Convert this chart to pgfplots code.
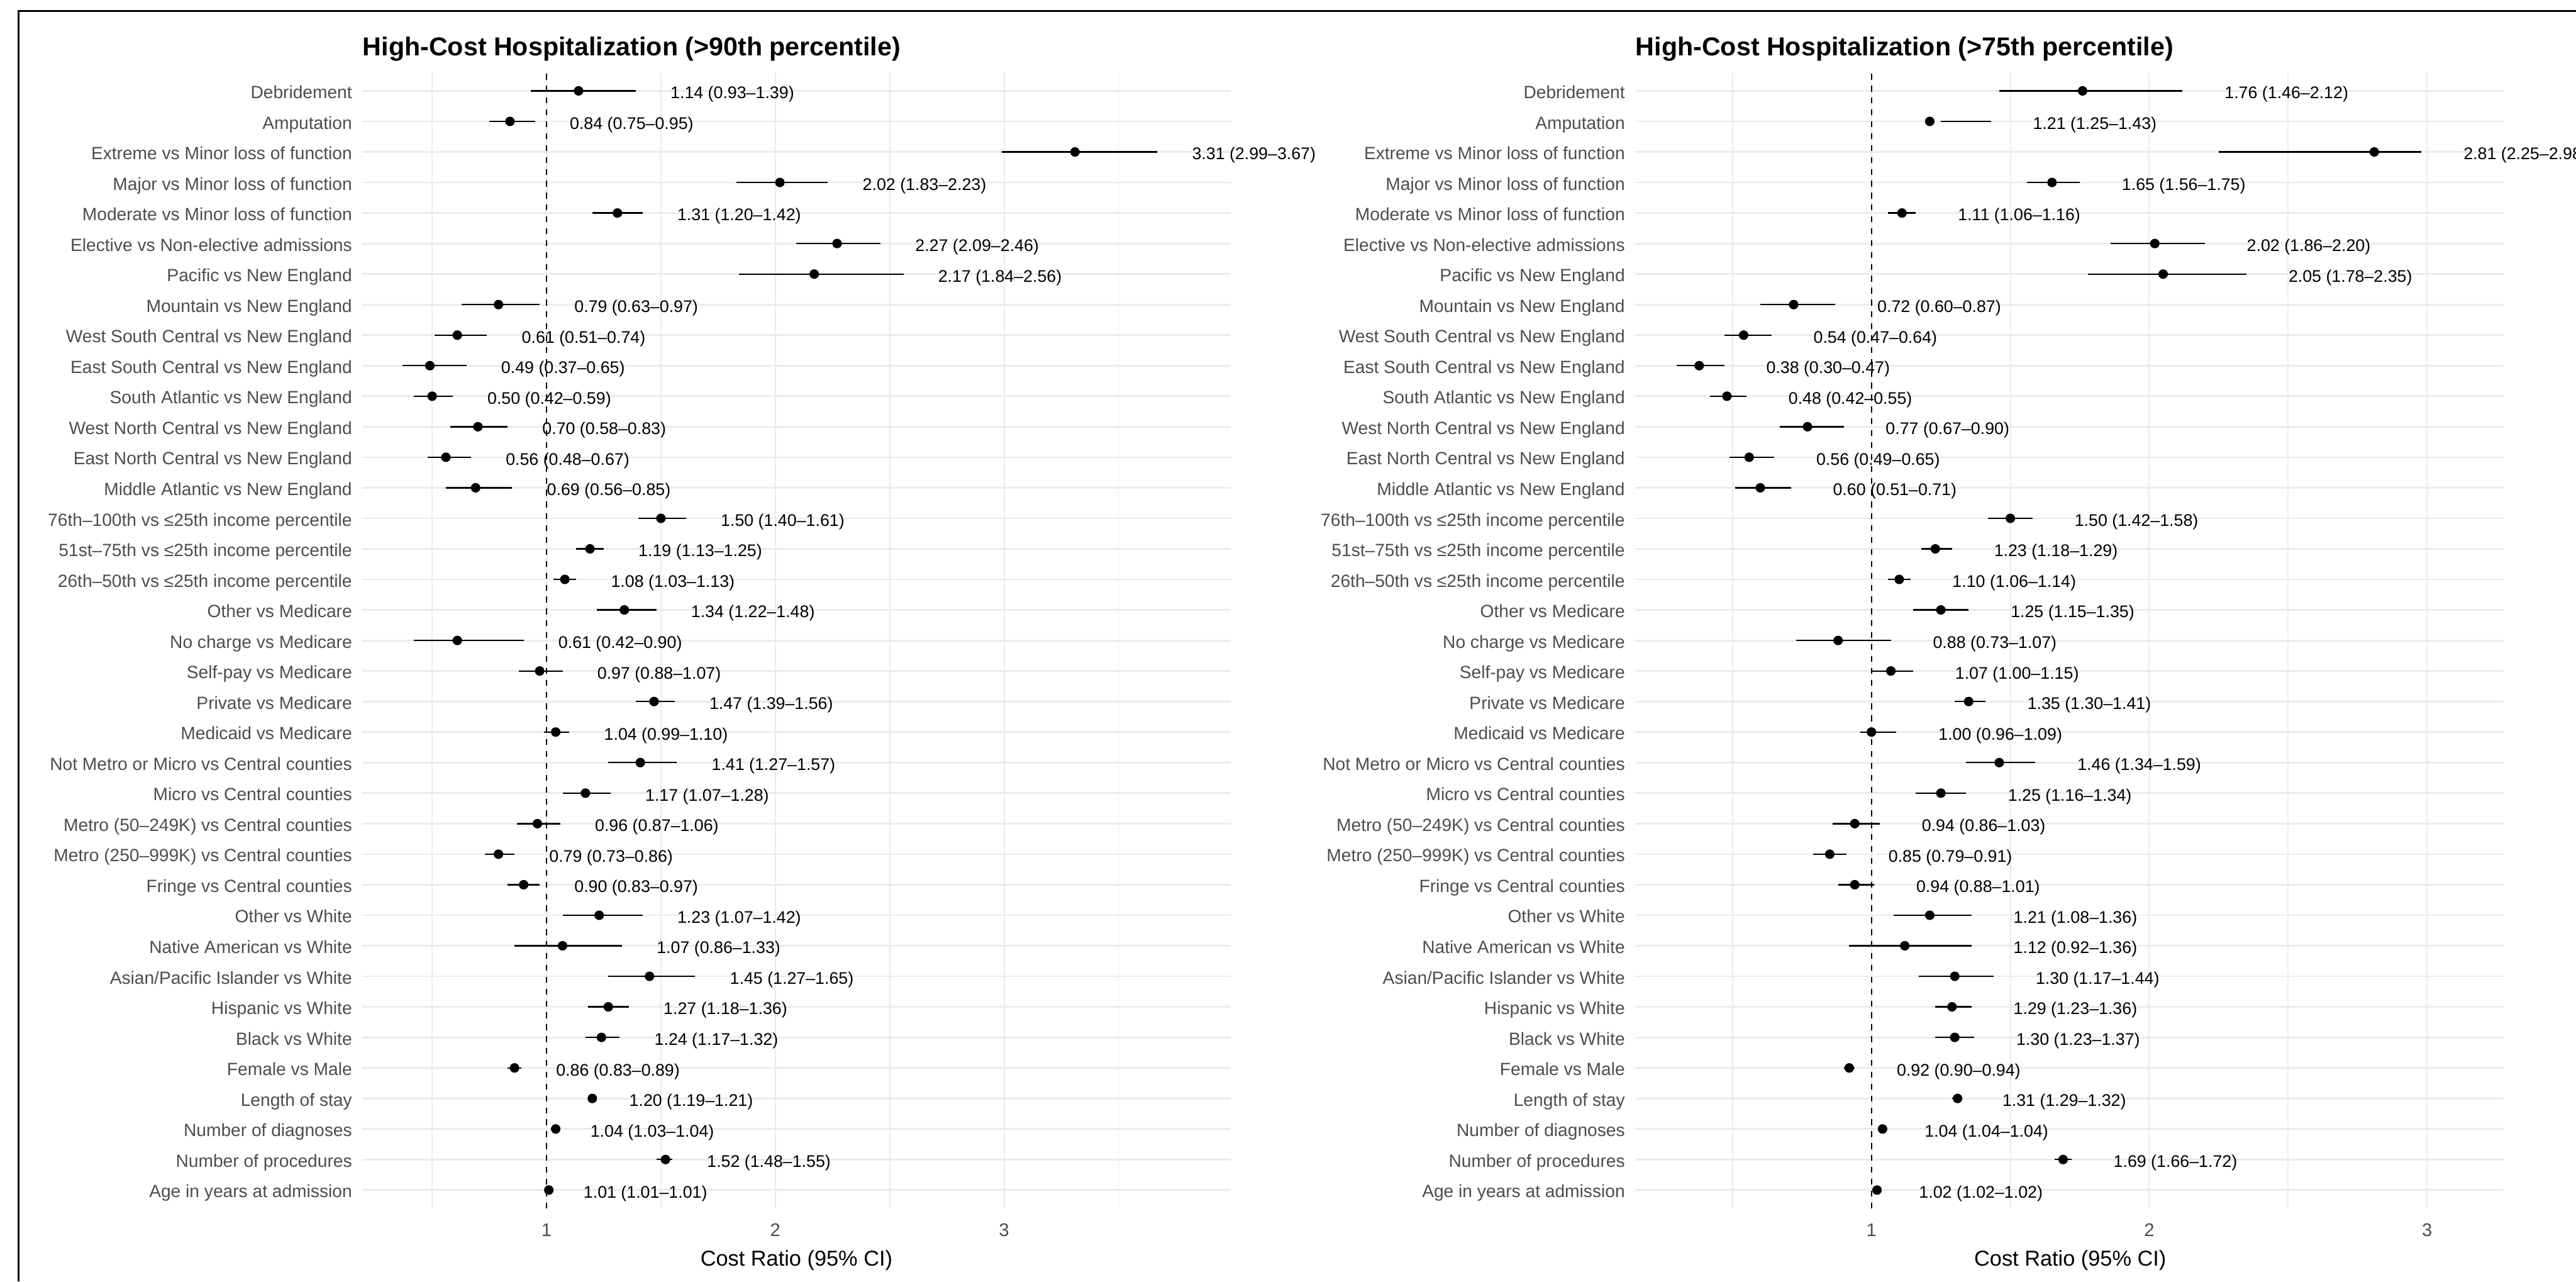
\documentclass[border=0pt]{standalone}
\usepackage{fontspec}
\setmainfont{Liberation Sans}
\usepackage{pgfplots}
\usepackage{pgfplotstable}
\pgfplotsset{compat=1.18}
\definecolor{gridc}{HTML}{EBEBEB}
\definecolor{labc}{HTML}{4D4D4D}

% Left panel: >90th percentile
\pgfplotstableread[col sep=comma]{
y,est,lo,hi,lab
37,1.14,0.93,1.39,1.14 (0.93–1.39)
36,0.84,0.75,0.95,0.84 (0.75–0.95)
35,3.31,2.99,3.67,3.31 (2.99–3.67)
34,2.02,1.83,2.23,2.02 (1.83–2.23)
33,1.31,1.20,1.42,1.31 (1.20–1.42)
32,2.27,2.09,2.46,2.27 (2.09–2.46)
31,2.17,1.84,2.56,2.17 (1.84–2.56)
30,0.79,0.63,0.97,0.79 (0.63–0.97)
29,0.61,0.51,0.74,0.61 (0.51–0.74)
28,0.49,0.37,0.65,0.49 (0.37–0.65)
27,0.50,0.42,0.59,0.50 (0.42–0.59)
26,0.70,0.58,0.83,0.70 (0.58–0.83)
25,0.56,0.48,0.67,0.56 (0.48–0.67)
24,0.69,0.56,0.85,0.69 (0.56–0.85)
23,1.50,1.40,1.61,1.50 (1.40–1.61)
22,1.19,1.13,1.25,1.19 (1.13–1.25)
21,1.08,1.03,1.13,1.08 (1.03–1.13)
20,1.34,1.22,1.48,1.34 (1.22–1.48)
19,0.61,0.42,0.90,0.61 (0.42–0.90)
18,0.97,0.88,1.07,0.97 (0.88–1.07)
17,1.47,1.39,1.56,1.47 (1.39–1.56)
16,1.04,0.99,1.10,1.04 (0.99–1.10)
15,1.41,1.27,1.57,1.41 (1.27–1.57)
14,1.17,1.07,1.28,1.17 (1.07–1.28)
13,0.96,0.87,1.06,0.96 (0.87–1.06)
12,0.79,0.73,0.86,0.79 (0.73–0.86)
11,0.90,0.83,0.97,0.90 (0.83–0.97)
10,1.23,1.07,1.42,1.23 (1.07–1.42)
9,1.07,0.86,1.33,1.07 (0.86–1.33)
8,1.45,1.27,1.65,1.45 (1.27–1.65)
7,1.27,1.18,1.36,1.27 (1.18–1.36)
6,1.24,1.17,1.32,1.24 (1.17–1.32)
5,0.86,0.83,0.89,0.86 (0.83–0.89)
4,1.20,1.19,1.21,1.20 (1.19–1.21)
3,1.04,1.03,1.04,1.04 (1.03–1.04)
2,1.52,1.48,1.55,1.52 (1.48–1.55)
1,1.01,1.01,1.01,1.01 (1.01–1.01)
}\datA

% Right panel: >75th percentile
\pgfplotstableread[col sep=comma]{
y,est,lo,hi,lab
37,1.76,1.46,2.12,1.76 (1.46–2.12)
36,1.21,1.25,1.43,1.21 (1.25–1.43)
35,2.81,2.25,2.98,2.81 (2.25–2.98)
34,1.65,1.56,1.75,1.65 (1.56–1.75)
33,1.11,1.06,1.16,1.11 (1.06–1.16)
32,2.02,1.86,2.20,2.02 (1.86–2.20)
31,2.05,1.78,2.35,2.05 (1.78–2.35)
30,0.72,0.60,0.87,0.72 (0.60–0.87)
29,0.54,0.47,0.64,0.54 (0.47–0.64)
28,0.38,0.30,0.47,0.38 (0.30–0.47)
27,0.48,0.42,0.55,0.48 (0.42–0.55)
26,0.77,0.67,0.90,0.77 (0.67–0.90)
25,0.56,0.49,0.65,0.56 (0.49–0.65)
24,0.60,0.51,0.71,0.60 (0.51–0.71)
23,1.50,1.42,1.58,1.50 (1.42–1.58)
22,1.23,1.18,1.29,1.23 (1.18–1.29)
21,1.10,1.06,1.14,1.10 (1.06–1.14)
20,1.25,1.15,1.35,1.25 (1.15–1.35)
19,0.88,0.73,1.07,0.88 (0.73–1.07)
18,1.07,1.00,1.15,1.07 (1.00–1.15)
17,1.35,1.30,1.41,1.35 (1.30–1.41)
16,1.00,0.96,1.09,1.00 (0.96–1.09)
15,1.46,1.34,1.59,1.46 (1.34–1.59)
14,1.25,1.16,1.34,1.25 (1.16–1.34)
13,0.94,0.86,1.03,0.94 (0.86–1.03)
12,0.85,0.79,0.91,0.85 (0.79–0.91)
11,0.94,0.88,1.01,0.94 (0.88–1.01)
10,1.21,1.08,1.36,1.21 (1.08–1.36)
9,1.12,0.92,1.36,1.12 (0.92–1.36)
8,1.30,1.17,1.44,1.30 (1.17–1.44)
7,1.29,1.23,1.36,1.29 (1.23–1.36)
6,1.30,1.23,1.37,1.30 (1.23–1.37)
5,0.92,0.90,0.94,0.92 (0.90–0.94)
4,1.31,1.29,1.32,1.31 (1.29–1.32)
3,1.04,1.04,1.04,1.04 (1.04–1.04)
2,1.69,1.66,1.72,1.69 (1.66–1.72)
1,1.02,1.02,1.02,1.02 (1.02–1.02)
}\datB

\pgfplotsset{
  forest/.style={
    scale only axis, width=402pt, height=525.8pt, anchor=south west,
    ymin=0.4, ymax=37.6,
    ytick={1,...,37},
    yticklabels={{Age in years at admission},{Number of procedures},{Number of diagnoses},{Length of stay},{Female vs Male},{Black vs White},{Hispanic vs White},{Asian/Pacific Islander vs White},{Native American vs White},{Other vs White},{Fringe vs Central counties},{Metro (250–999K) vs Central counties},{Metro (50–249K) vs Central counties},{Micro vs Central counties},{Not Metro or Micro vs Central counties},{Medicaid vs Medicare},{Private vs Medicare},{Self-pay vs Medicare},{No charge vs Medicare},{Other vs Medicare},{26th–50th vs ≤25th income percentile},{51st–75th vs ≤25th income percentile},{76th–100th vs ≤25th income percentile},{Middle Atlantic vs New England},{East North Central vs New England},{West North Central vs New England},{South Atlantic vs New England},{East South Central vs New England},{West South Central vs New England},{Mountain vs New England},{Pacific vs New England},{Elective vs Non-elective admissions},{Moderate vs Minor loss of function},{Major vs Minor loss of function},{Extreme vs Minor loss of function},{Amputation},{Debridement}},
    xtick={1,2,3},
    minor xtick={0.5,1.5,2.5,3.5},
    grid=both,
    major x grid style={gridc, line width=0.55pt},
    minor x grid style={gridc, line width=0.55pt},
    major y grid style={gridc, line width=0.8pt},
    axis line style={draw=none},
    major tick length=0pt, minor tick length=0pt,
    tick style={draw=none},
    clip=false,
    /pgf/number format/assume math mode=true,
    xticklabel style={font=\fontsize{8.5}{10}\selectfont, text=labc, anchor=base, inner sep=0pt, yshift=-13pt},
    yticklabel style={font=\fontsize{8.2}{10}\selectfont, text=labc, anchor=base east, inner sep=0pt, xshift=-4.6pt, yshift=-3.5pt},
  },
  cibar/.style={draw=none, mark=none, forget plot,
    error bars/.cd, x dir=both, x explicit, error mark=none,
    error bar style={draw=black, line width=0.67pt}},
  estpt/.style={only marks, mark=*, mark size=2pt, black, forget plot},
  cilab/.style={draw=none, mark=none, forget plot, nodes near coords, point meta=explicit symbolic,
    nodes near coords style={anchor=base west, inner sep=0pt, yshift=-3.6pt, font=\fontsize{7.8}{9}\selectfont, text=black}},
  refline/.style={black, line width=0.5pt, dash pattern=on 2.7pt off 2.8pt, forget plot},
}

\begin{document}
\begin{tikzpicture}
\begin{axis}[forest, at={(167.8pt,33.8pt)}, xmin=0.195, xmax=3.99]
  \addplot[refline] coordinates {(1,0.4) (1,37.6)};
  \addplot[cibar] table[x expr={(\thisrow{lo}+\thisrow{hi})/2}, y=y, x error expr={(\thisrow{hi}-\thisrow{lo})/2}] {\datA};
  \addplot[estpt] table[x=est, y=y] {\datA};
  \addplot[cilab] table[x expr={\thisrow{hi}+0.15}, y=y, meta=lab] {\datA};
\end{axis}
\begin{axis}[forest, at={(757.2pt,33.8pt)}, xmin=0.15, xmax=3.275]
  \addplot[refline] coordinates {(1,0.4) (1,37.6)};
  \addplot[cibar] table[x expr={(\thisrow{lo}+\thisrow{hi})/2}, y=y, x error expr={(\thisrow{hi}-\thisrow{lo})/2}] {\datB};
  \addplot[estpt] table[x=est, y=y] {\datB};
  \addplot[cilab] table[x expr={\thisrow{hi}+0.15}, y=y, meta=lab] {\datB};
\end{axis}
\node[anchor=base west, inner sep=0pt, font=\bfseries\fontsize{12}{14}\selectfont] at (167.8pt,567.4pt) {High-Cost Hospitalization (>90th percentile)};
\node[anchor=base west, inner sep=0pt, font=\bfseries\fontsize{12}{14}\selectfont] at (757.2pt,567.4pt) {High-Cost Hospitalization (>75th percentile)};
\node[anchor=base, inner sep=0pt, font=\fontsize{10}{12}\selectfont] at (368.8pt,7.2pt) {Cost Ratio (95\% CI)};
\node[anchor=base, inner sep=0pt, font=\fontsize{10}{12}\selectfont] at (958.6pt,7.2pt) {Cost Ratio (95\% CI)};
\draw[line width=0.8pt] (8.5pt,0pt) -- (8.5pt,588pt) -- (1193pt,588pt);
\pgfresetboundingbox
\path[use as bounding box] (0pt,0pt) rectangle (1192.8pt,593.2pt);
\end{tikzpicture}
\end{document}
